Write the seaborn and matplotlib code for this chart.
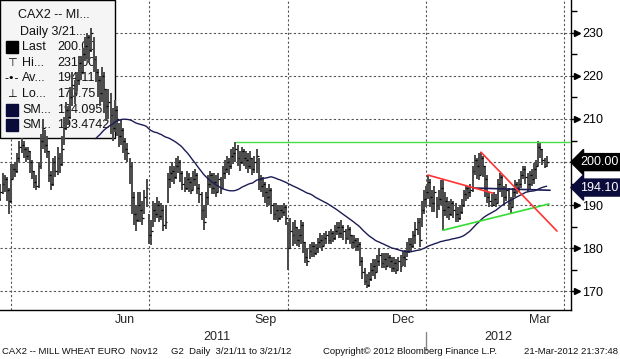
import numpy as np
import pandas as pd
import matplotlib
matplotlib.use("Agg")
import matplotlib.pyplot as plt
import matplotlib.patches as mpatches
import seaborn as sns

# Daily bars CAX2 (Mill wheat Euronext Nov12), 21-Mar-2011 .. 21-Mar-2012
closes = [
    193, 194.5, 192, 191.5, 193, 195, 196, 193.5, 191, 196,
    198.5, 198, 201, 203.5, 204, 203, 201.5, 202.5, 200, 198,
    195.5, 194.5, 199, 205, 208, 204, 202.5, 197, 195, 200,
    198, 201, 199.5, 203, 208, 212, 210.5, 215, 218, 216,
    219, 223, 221, 225, 227, 229, 226, 230, 224, 221,
    219, 216, 220, 217, 213, 214, 211, 208, 212, 210,
    206, 207.5, 205, 203, 202, 199, 192, 188, 186.5, 190,
    189, 187, 192, 194, 183, 184, 189, 188, 190, 187.5,
    189, 185.5, 186, 196, 197.5, 198, 196.5, 199, 200, 197.5,
    195, 194, 196, 195.5, 193.5, 196, 197, 194, 192.5, 189,
    186, 192, 195, 197, 194, 195.5, 193, 196, 194, 197.5,
    198.5, 200, 199, 201.5, 202, 203, 201, 200, 202.5, 201,
    200.5, 199, 201, 198.5, 200, 201.5, 196, 194.5, 195, 193,
    192, 193.5, 190, 188, 189, 187, 189, 188.5, 189.5, 187,
    180, 184, 183, 185, 182, 183, 185.5, 181.5, 178, 177,
    179.5, 180.5, 179, 180, 181.5, 182, 180.5, 182.5, 183, 182,
    183.5, 182.5, 184, 185, 183.5, 185, 184, 182.5, 184.5, 183,
    181.5, 182, 180.5, 181, 177, 174.5, 172.5, 171.5, 173, 175,
    176, 174.5, 177, 178.5, 176.5, 177.5, 176, 178, 177, 175.5,
    176.5, 175, 177, 176, 178, 177.5, 179.5, 181, 180.5, 183,
    184.5, 186, 182, 189, 191.5, 193, 195.5, 192, 190.5, 193,
    190, 191.5, 194, 189, 191, 189.5, 188, 190.5, 189, 188,
    187, 188.5, 190, 192.5, 194, 193, 193.5, 198, 200.5, 199,
    197, 201, 199, 196, 192, 191, 190, 191.5, 190.5, 195,
    196.5, 194, 192, 193.5, 190.5, 189.5, 193, 195, 194, 195,
    197, 198.5, 196.5, 195, 197, 196, 198.5, 199, 203.5, 203,
    200.5, 199, 200,
]
highs = [
    195, 196, 195, 193.5, 195, 197.5, 197, 196.5, 194, 199.5,
    199.5, 200, 202, 205, 205.5, 205, 203.5, 203.5, 202.5, 200.5,
    198, 197, 200, 206.5, 210, 207.5, 206, 202.5, 198, 201,
    201.5, 203.5, 202, 206, 210.5, 214, 213, 217.5, 221, 219,
    221, 224.5, 224.5, 226.5, 229, 230, 229.5, 231, 229, 224.5,
    221.5, 220, 222, 221, 217, 217, 216, 212.5, 214.5, 213,
    209, 210, 208, 205.5, 204.5, 201, 200, 193, 190, 193,
    193, 191, 193.5, 196, 188, 186.5, 191, 190.5, 192, 191,
    190.5, 190, 190, 197.5, 199, 200, 199, 201, 201.5, 200.5,
    198, 196.5, 198, 197.5, 196.5, 198, 198.5, 197.5, 195, 193,
    190, 193, 197, 198, 197.5, 197.5, 197, 197.5, 196.5, 199,
    200.5, 201.5, 201, 203, 203.5, 204.6, 204, 202.5, 203.5, 203,
    202.5, 202, 202.5, 201, 201.5, 203, 201, 197, 196.5, 195.5,
    194, 195, 194, 190.5, 190.5, 190, 190, 190, 190.5, 190,
    186, 187, 186, 186.5, 185, 184.5, 186.5, 186, 181.5, 180,
    181, 181.5, 181.5, 181, 182.5, 183.5, 183, 183.5, 184, 184,
    184.5, 184, 185.5, 186, 186, 186.5, 185.5, 184.5, 185.5, 185,
    183, 183, 182.5, 182.5, 181.5, 178, 175.5, 174, 174.5, 176.5,
    177.5, 177.5, 178.5, 180, 179, 179, 179, 179, 178.5, 178,
    178, 177.5, 178, 178.5, 179.5, 179.6, 181.5, 182.5, 182.5, 184,
    186, 187, 187, 191, 193.5, 194.5, 197, 196, 193.5, 194.5,
    192, 193.5, 195.8, 196, 193, 192, 191, 191.5, 191, 190.5,
    189.5, 190, 191.5, 193.5, 194.7, 194.5, 195, 199, 201.6, 201,
    202, 202.3, 201.5, 199, 197, 193, 192.5, 193, 192.5, 196,
    197.5, 197, 194.5, 195, 194, 192, 194, 195.8, 195.5, 196,
    198, 199, 199, 197.5, 198, 198.5, 199.8, 200.5, 204.9, 204.6,
    203, 201, 201.5,
]
lows = [
    191, 192, 190.5, 189.5, 191, 192.5, 193, 191, 188, 190.5,
    196, 196.5, 197.5, 200, 202, 201, 200, 200.5, 197.5, 196,
    194, 193.5, 194, 198.5, 203, 202, 201, 195.5, 193.5, 194.5,
    196.5, 197, 197.5, 199, 204, 207.5, 208.5, 210, 213, 213.5,
    216.5, 218, 219, 220.5, 223.5, 224, 223, 225.5, 221, 218.5,
    215, 213, 214, 211.5, 209.5, 210, 206.5, 205, 207, 206,
    203.5, 204, 202, 200.5, 200, 195, 188, 185.5, 184, 186,
    186, 185.5, 188, 189.5, 181, 180.7, 185, 186, 187, 186,
    186.5, 184, 184.5, 190.5, 194, 195.5, 195, 196, 197.5, 195.5,
    193.5, 193, 193.5, 193, 192.5, 193.5, 194.5, 192.5, 190.5, 186.5,
    184.2, 187, 190, 194, 192.5, 192.5, 192, 193, 192.5, 194,
    196, 197.5, 197, 198.5, 199.5, 200, 199, 198, 199.5, 199,
    198.5, 197.5, 198.5, 197, 197.5, 197.5, 193.5, 193, 192, 190.5,
    189.5, 190, 188, 186.5, 186.5, 186, 186.5, 187, 187.5, 185.5,
    175, 180, 180.5, 181, 180.5, 180.3, 181, 179, 176.5, 176,
    177.5, 178, 178, 178.5, 179, 180, 179.5, 180.5, 181, 181,
    181, 181.5, 182, 183, 182.5, 182.5, 182, 181, 182, 181,
    180, 180, 179.5, 179.5, 176, 173, 171.5, 170.75, 171, 172.5,
    173.5, 173, 174.5, 176, 175.5, 175.5, 175, 176, 175.5, 174.5,
    174.5, 174, 175, 174.5, 176, 175.6, 178, 179, 179.5, 180,
    181, 183, 180.3, 185, 188, 189.5, 191.5, 189.6, 188.5, 188.5,
    187, 189, 190, 184.2, 187.5, 187, 186.5, 187.5, 187, 186,
    186, 186.5, 188, 189.5, 191, 191.5, 192, 193, 197, 196,
    195.8, 197, 196.5, 192, 190.5, 189.6, 189.5, 190, 189.6, 190.5,
    193, 192, 190, 191, 189, 188.2, 189.5, 192, 192.5, 193,
    194, 196, 195, 193, 193.5, 194.5, 195, 196, 199, 201,
    199.3, 198.6, 198.8,
]

# hand-drawn study lines: bar index / price
resist_x, resist_y = [115.3, 274], [204.6, 204.6]
red_a_x, red_a_y = [205.9, 236.6], [197.0, 192.8]
red_b_x, red_b_y = [231.0, 266.9], [202.3, 184.0]
support_x, support_y = [213.0, 263.1], [184.2, 190.3]
sma2_x, sma2_y = [227.2, 263.6], [194.0, 193.47]

legend_labels = ["Last", "Hi...", "Av...", "Lo...", "SM...", "SM..."]
legend_values = ["200.00", "231.00", "194.11", "170.75", "194.0955", "193.4742"]
last_label, sma_label = "200.00", "194.10"

y_major = [170, 180, 190, 200, 210, 220, 230]
y_minor = [175, 185, 195, 205, 215, 225, 235]

NAVY = "#1c1c55"
X_LO, X_HI = 3.8, 273.5

sns.set_style("white")
plt.rcParams["font.family"] = ["Liberation Sans", "DejaVu Sans"]

dates = pd.bdate_range("2011-03-21", "2012-03-21")
df = pd.DataFrame({"date": dates, "high": highs, "low": lows, "close": closes})
df["i"] = np.arange(len(df))
df["sma50"] = df["close"].rolling(50).mean()

# calendar of the axis (runs a bit past the last bar)
axis_days = pd.bdate_range("2011-03-21", "2012-05-31")
month_starts = pd.date_range("2011-04-01", "2012-05-01", freq="MS")
month_pos = [axis_days.searchsorted(m) for m in month_starts]

fig = plt.figure(figsize=(6.2, 3.59), dpi=100)
ax = fig.add_axes([0, 1 - 310 / 359, 571 / 620, 310 / 359])

# bars
ax.vlines(df["i"], df["low"], df["high"], color="#4a4a4a", lw=1.4, zorder=3)
ax.hlines(df["close"], df["i"], df["i"] + 0.9, color="black", lw=0.9, zorder=3)

sns.lineplot(data=df, x="i", y="sma50", ax=ax, color=NAVY, lw=1.0, zorder=4)
sns.lineplot(x=sma2_x, y=sma2_y, ax=ax, color=NAVY, lw=1.2, zorder=4)
sns.lineplot(x=resist_x, y=resist_y, ax=ax, color="#44dd44", lw=1.0, zorder=4)
sns.lineplot(x=support_x, y=support_y, ax=ax, color="#33dd33", lw=1.2, zorder=4)
sns.lineplot(x=red_a_x, y=red_a_y, ax=ax, color="#ff3333", lw=1.2, zorder=4)
sns.lineplot(x=red_b_x, y=red_b_y, ax=ax, color="#ff3333", lw=1.2, zorder=4)

ax.set_xlabel("")
ax.set_ylabel("")

# grid
for y in y_major:
    ax.axhline(y, color="#555555", lw=0.8, ls=(0, (2, 2)), zorder=1)
for m, p in zip(month_starts, month_pos):
    if m.month in (1, 4, 7, 10):
        ax.axvline(p, color="#555555", lw=0.8, ls=(0, (2, 2)), zorder=1)

for s in ["left", "top"]:
    ax.spines[s].set_visible(False)
for s in ["right", "bottom"]:
    ax.spines[s].set_color("black")
    ax.spines[s].set_linewidth(1.0)

# y axis on the right with arrow ticks (the 200 label sits under the flag)
ax.yaxis.tick_right()
ax.set_yticks(y_major)
ax.set_yticks(y_minor, minor=True)
ax.set_yticklabels(["" if v == 200 else str(v) for v in y_major])
ax.tick_params(axis="y", which="major", length=6, width=1, pad=2,
               labelsize=9, colors="black")
ax.tick_params(axis="y", which="minor", length=4, width=1, colors="black")
ax.plot(np.full(len(y_major), 1.011), y_major, marker=">", ls="none", ms=4.5,
        color="black", transform=ax.get_yaxis_transform(), clip_on=False)

# x axis: month ticks, quarter labels
ax.set_xticks(month_pos)
ax.set_xticklabels([])
ax.tick_params(axis="x", which="major", length=4, width=1, direction="out",
               colors="black")
centers, clabels = [], []
for k in range(len(month_pos) - 1):
    if month_starts[k].month in (3, 6, 9, 12):
        centers.append((month_pos[k] + month_pos[k + 1]) / 2)
        clabels.append(month_starts[k].strftime("%b"))
ax.set_xticks(centers, minor=True)
ax.set_xticklabels(clabels, minor=True)
ax.tick_params(axis="x", which="minor", length=0, pad=3, labelsize=9)

ax.set_xlim(X_LO, X_HI)
ax.set_ylim(165.7, 237.6)

jan = month_pos[list(month_starts).index(pd.Timestamp("2012-01-01"))]
xt = ax.get_xaxis_transform()
ax.text((X_LO + jan) / 2 + 2, -0.087, "2011", transform=xt, ha="center",
        va="center", fontsize=9)
ax.text((jan + X_HI) / 2, -0.087, "2012", transform=xt, ha="center",
        va="center", fontsize=9)
ax.plot([jan, jan], [-0.07, -0.13], transform=xt, color="#888888", lw=1,
        clip_on=False)

# right-edge value flags
ax.annotate(last_label, xy=(1, float(last_label)), xycoords=ax.get_yaxis_transform(),
            xytext=(9, 0), textcoords="offset pixels", ha="left", va="center",
            color="white", fontsize=9, annotation_clip=False, zorder=6,
            bbox=dict(boxstyle="larrow,pad=0.2", fc="black", ec="black"))
ax.annotate(sma_label, xy=(1, float(sma_label)), xycoords=ax.get_yaxis_transform(),
            xytext=(9, 0), textcoords="offset pixels", ha="left", va="center",
            color="white", fontsize=9, annotation_clip=False, zorder=6,
            bbox=dict(boxstyle="larrow,pad=0.2", fc="#0b0b3b", ec="#0b0b3b"))

# legend panel (bars draw over it)
ax.add_patch(mpatches.Rectangle((0, 1 - 138 / 310), 115 / 571, 138 / 310,
                                transform=ax.transAxes, fc="#f5f5f5",
                                ec="black", lw=1, zorder=1.5))
ax.text(18 / 571, 1 - 15 / 310, "CAX2 -- MI...", transform=ax.transAxes,
        fontsize=9, va="center", color="#111111", zorder=1.6)
ax.text(20 / 571, 1 - 32 / 310, "Daily 3/21...", transform=ax.transAxes,
        fontsize=9, va="center", color="#111111", zorder=1.6)
rows_y = [47, 63, 78, 94, 110, 125]
icons = [None, "⊤", "-•-", "⊥", None, None]
icon_colors = ["black", "black", "black", "black", "#0b0b3b", "#0b0b3b"]
for lab, val, yy, ic, col in zip(legend_labels, legend_values, rows_y, icons, icon_colors):
    ya = 1 - yy / 310
    if ic is None:
        ax.add_patch(mpatches.Rectangle((6 / 571, ya - 6 / 310), 12 / 571, 12 / 310,
                                        transform=ax.transAxes, fc=col, ec=col,
                                        zorder=1.6))
    else:
        ax.text(12 / 571, ya, ic, transform=ax.transAxes, fontsize=8, ha="center",
                va="center", color=col, zorder=1.6,
                family=["DejaVu Sans"])
    ax.text(22 / 571, ya, lab, transform=ax.transAxes, fontsize=9, va="center",
            color="#111111", zorder=1.6)
    ax.text(57 / 571, ya, val, transform=ax.transAxes, fontsize=9, va="center",
            color="#111111", zorder=1.6)

# footer
fig.text(2 / 620, 1 - 352 / 359,
         "CAX2 -- MILL WHEAT EURO  Nov12     G2  Daily  3/21/11 to 3/21/12",
         fontsize=6.8, va="center", color="#111111")
fig.text(323 / 620, 1 - 352 / 359, "Copyright© 2012 Bloomberg Finance L.P.",
         fontsize=6.8, va="center", color="#111111")
fig.text(618 / 620, 1 - 352 / 359, "21-Mar-2012 21:37:48",
         fontsize=6.8, va="center", ha="right", color="#111111")

fig.savefig("out.png", dpi=100)
